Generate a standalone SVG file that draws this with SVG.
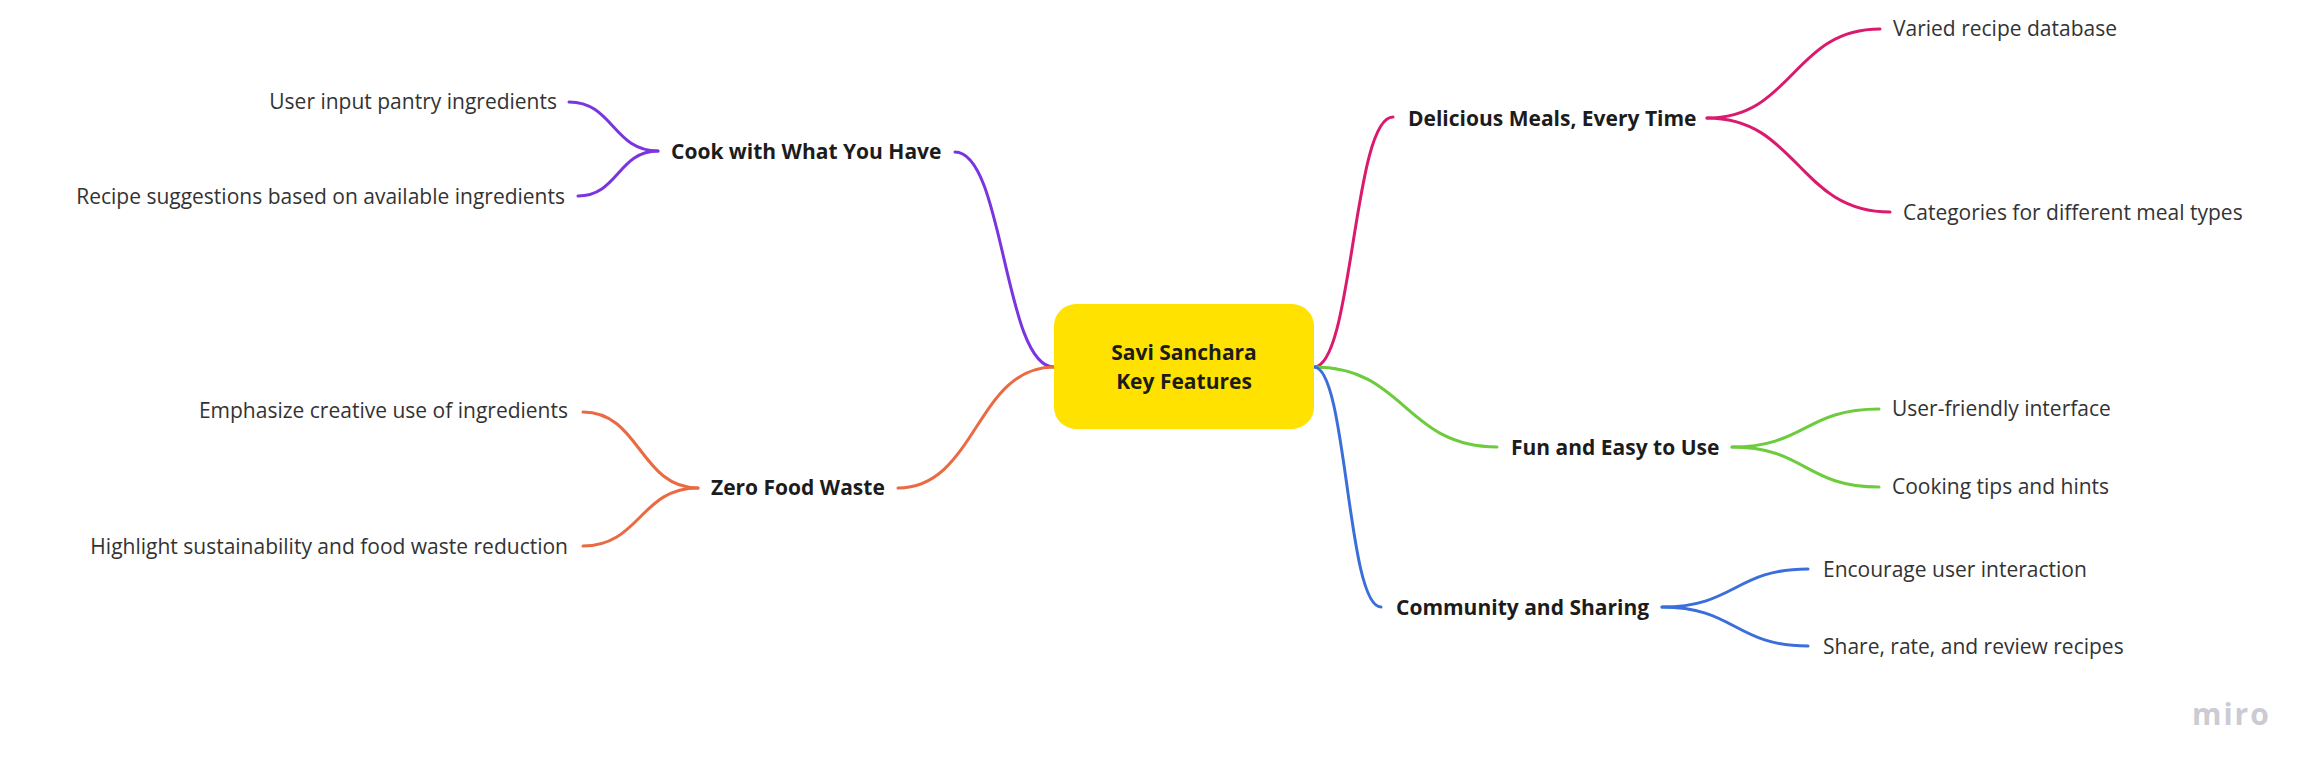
<svg xmlns="http://www.w3.org/2000/svg" width="2322" height="779" viewBox="0 0 2322 779">
<style>
.c{fill:none;stroke-width:3;stroke-linecap:round}
.p{stroke:#7a35e0}.k{stroke:#db1a6e}.g{stroke:#6ccc3d}.b{stroke:#3a6fdb}.o{stroke:#e96a43}
.t{font-family:"Open Sans","Liberation Sans",sans-serif;font-size:21px;fill:#333333}
.h{font-family:"Open Sans","Liberation Sans",sans-serif;font-size:21px;font-weight:700;fill:#1c1c1c}
.e{text-anchor:end}
</style>
<rect width="2322" height="779" fill="#ffffff"/>
<g id="connectors">
<path class="c p" d="M1054,367 C1004,367 1004,152 955,152"/>
<path class="c k" d="M1314,367 C1353,367 1353,117 1393,117"/>
<path class="c g" d="M1314,367 C1405,367 1405,447 1497,447"/>
<path class="c b" d="M1314,367 C1347,367 1347,607 1381,607"/>
<path class="c o" d="M1054,367 C976,367 976,488 898,488"/>
<path class="c p" d="M658,151 C613,151 613,102 569,102"/>
<path class="c p" d="M658,151 C618,151 618,196 578,196"/>
<path class="c k" d="M1707,118 C1793,118 1793,29 1880,29"/>
<path class="c k" d="M1707,118 C1798,118 1798,212 1890,212"/>
<path class="c g" d="M1732,447 C1805,447 1805,409 1879,409"/>
<path class="c g" d="M1732,447 C1805,447 1805,487 1879,487"/>
<path class="c b" d="M1662,607 C1735,607 1735,569 1808,569"/>
<path class="c b" d="M1662,607 C1735,607 1735,646 1808,646"/>
<path class="c o" d="M698,488 C640,488 640,412 583,412"/>
<path class="c o" d="M698,488 C640,488 640,546 583,546"/>
</g>
<g id="root">
<rect x="1054" y="304" width="260" height="125" rx="22" fill="#ffe200"/>
<text class="h" x="1184" y="360" text-anchor="middle">Savi Sanchara</text>
<text class="h" x="1184" y="389" text-anchor="middle">Key Features</text>
</g>
<g id="cook"><text class="h" x="671" y="159">Cook with What You Have</text></g>
<g id="cook-1"><text class="t e" x="557" y="109">User input pantry ingredients</text></g>
<g id="cook-2"><text class="t e" x="565" y="204">Recipe suggestions based on available ingredients</text></g>
<g id="delicious"><text class="h" x="1408" y="126">Delicious Meals, Every Time</text></g>
<g id="delicious-1"><text class="t" x="1893" y="36">Varied recipe database</text></g>
<g id="delicious-2"><text class="t" x="1903" y="220">Categories for different meal types</text></g>
<g id="waste"><text class="h" x="711" y="495">Zero Food Waste</text></g>
<g id="waste-1"><text class="t e" x="568" y="418">Emphasize creative use of ingredients</text></g>
<g id="waste-2"><text class="t e" x="568" y="554">Highlight sustainability and food waste reduction</text></g>
<g id="fun"><text class="h" x="1511" y="455">Fun and Easy to Use</text></g>
<g id="fun-1"><text class="t" x="1892" y="416">User-friendly interface</text></g>
<g id="fun-2"><text class="t" x="1892" y="494">Cooking tips and hints</text></g>
<g id="community"><text class="h" x="1396" y="615">Community and Sharing</text></g>
<g id="community-1"><text class="t" x="1823" y="577">Encourage user interaction</text></g>
<g id="community-2"><text class="t" x="1823" y="654">Share, rate, and review recipes</text></g>
<g id="logo"><text x="2192" y="725" font-family="'Open Sans','Liberation Sans',sans-serif" font-size="30" font-weight="700" fill="#cbcbd4" letter-spacing="2">miro</text></g>
</svg>
